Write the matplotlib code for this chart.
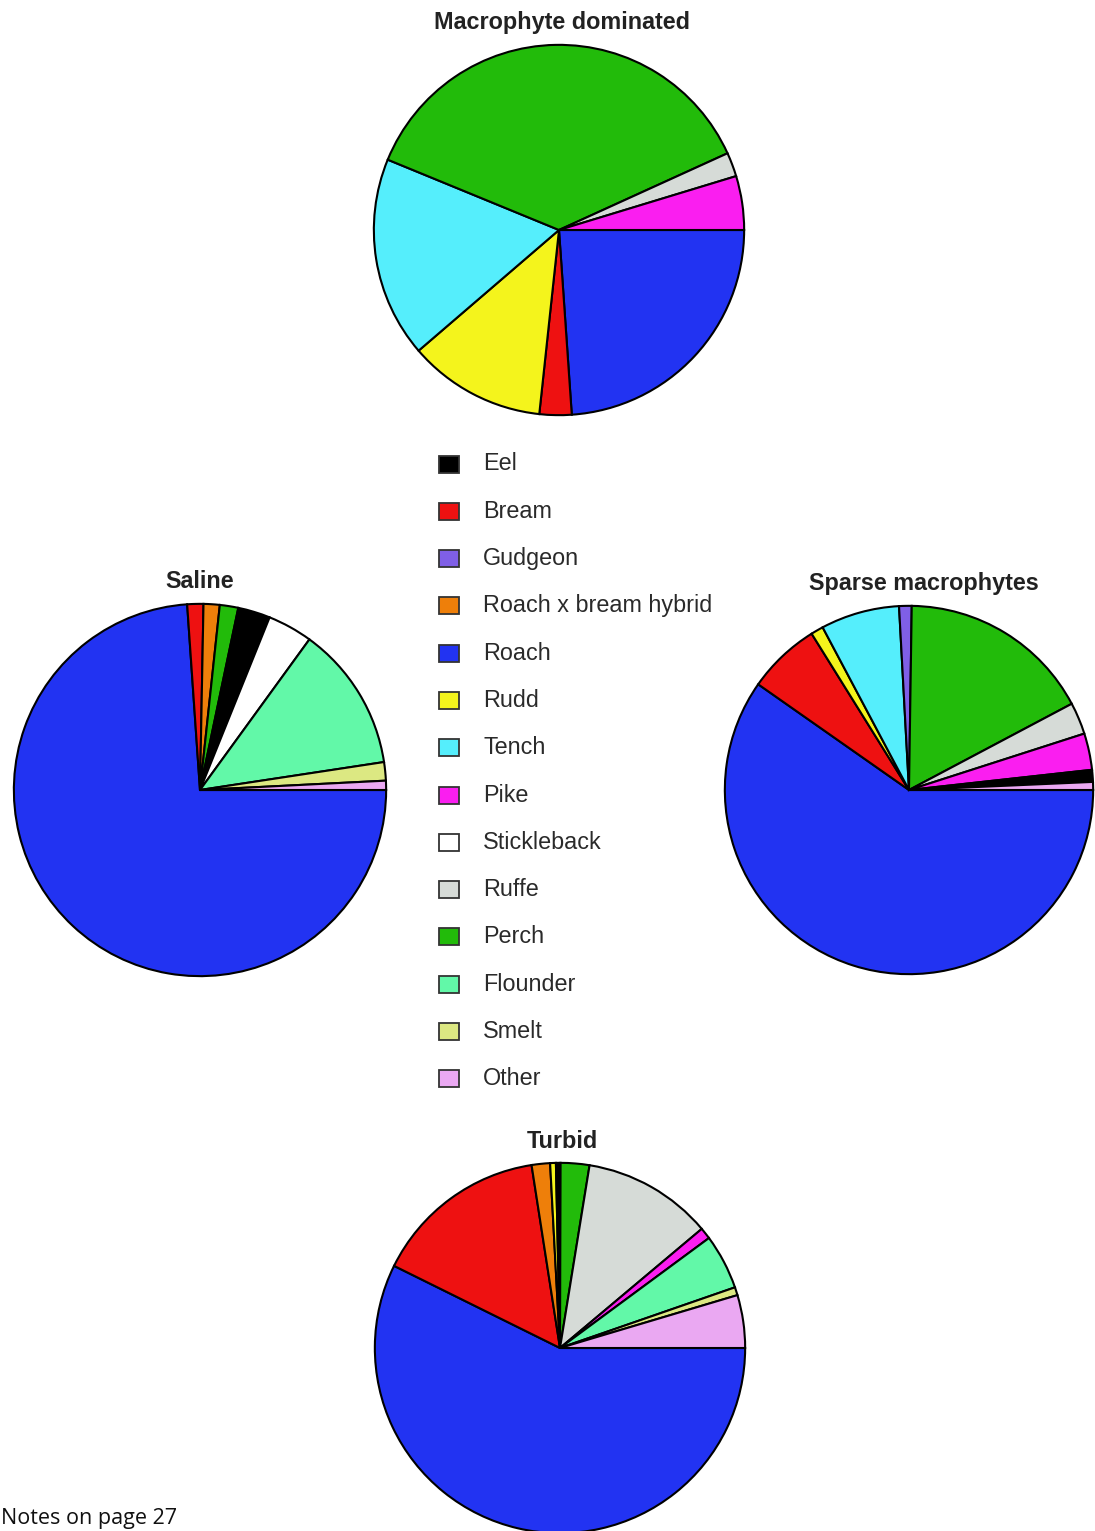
import matplotlib
matplotlib.use("Agg")
import matplotlib.pyplot as plt

# ---- data ----
species = ["Eel", "Bream", "Gudgeon", "Roach x bream hybrid", "Roach", "Rudd",
           "Tench", "Pike", "Stickleback", "Ruffe", "Perch", "Flounder",
           "Smelt", "Other"]
species_colors = ["#000000", "#ee1111", "#7f5fe6", "#ee7f0a", "#2233f2", "#f4f41c",
                  "#55eefc", "#fa1ef0", "#ffffff", "#d6dbd7", "#22bb0a", "#62f8a8",
                  "#dce882", "#eaa8f2"]

# slices listed clockwise starting from 3 o'clock (% of catch)
macro_species = ["Roach", "Bream", "Rudd", "Tench", "Perch", "Ruffe", "Pike"]
macro_values = [23.9, 2.8, 12.0, 17.5, 37.0, 2.1, 4.7]

saline_species = ["Roach", "Bream", "Roach x bream hybrid", "Perch", "Eel",
                  "Stickleback", "Flounder", "Smelt", "Other"]
saline_values = [73.9, 1.4, 1.4, 1.6, 2.8, 3.9, 12.6, 1.6, 0.8]

sparse_species = ["Roach", "Bream", "Rudd", "Tench", "Gudgeon", "Perch", "Ruffe",
                  "Pike", "Eel", "Other"]
sparse_values = [59.7, 6.4, 1.1, 6.9, 1.1, 17.0, 2.8, 3.2, 1.05, 0.7]

turbid_species = ["Roach", "Bream", "Roach x bream hybrid", "Rudd", "Eel", "Perch",
                  "Ruffe", "Pike", "Flounder", "Smelt", "Other"]
turbid_values = [57.2, 15.2, 1.6, 0.5, 0.4, 2.5, 11.3, 1.0, 4.8, 0.7, 4.6]

titles = ["Macrophyte dominated", "Saline", "Sparse macrophytes", "Turbid"]
footer = "Notes on page 27"

# ---- layout ----
W, H = 1095, 1531
fig = plt.figure(figsize=(W / 100, H / 100), dpi=100)
fig.patch.set_facecolor("white")
FONT = ["Liberation Sans", "DejaVu Sans"]
cmap = dict(zip(species, species_colors))

def px_axes(cx, cy, r):
    return fig.add_axes([(cx - r) / W, (H - cy - r) / H, 2 * r / W, 2 * r / H])

pies = [
    (macro_species, macro_values, (559, 230, 187), (562, 22)),
    (saline_species, saline_values, (200, 790, 188), (200, 581)),
    (sparse_species, sparse_values, (909, 790, 186), (924, 584)),
    (turbid_species, turbid_values, (560, 1348, 187), (562, 1142)),
]

for (sp, vals, (cx, cy, r), (tx, ty)), title in zip(pies, titles):
    ax = px_axes(cx, cy, r)
    ax.pie(vals, colors=[cmap[s] for s in sp], startangle=0, counterclock=False,
           radius=1.0, wedgeprops=dict(edgecolor="black", linewidth=1.5))
    ax.set_xlim(-1.01, 1.01)
    ax.set_ylim(-1.01, 1.01)
    ax.set_aspect("auto")
    ax.axis("off")
    fig.text(tx / W, 1 - ty / H, title, ha="center", va="center",
             fontsize=16.8, fontweight="bold", family=FONT, color="#222222")

# ---- legend ----
lx0, lx1, ly0, ly1 = 430, 760, 440, 1100
lax = fig.add_axes([lx0 / W, 1 - ly1 / H, (lx1 - lx0) / W, (ly1 - ly0) / H])
step = 47.3
first = 464
n = len(species)
idx = list(range(n))
lax.set_xlim(lx0, lx1)
lax.set_ylim((ly1 - first) / step, (ly0 - first) / step)
lax.barh(idx, [20] * n, left=439, height=17 / step, color=species_colors,
         edgecolor="#333333", linewidth=1.3)
for i, s in enumerate(species):
    lax.text(483, i, s, ha="left", va="center", fontsize=16.8, family=FONT,
             color="#2a2a2a")
lax.axis("off")

fig.text(1 / W, 1 - 1529 / H, footer, ha="left", va="bottom", fontsize=15.5,
         family=["Open Sans", "DejaVu Sans"], color="#111111")

fig.savefig("out.png", dpi=100, facecolor="white")
